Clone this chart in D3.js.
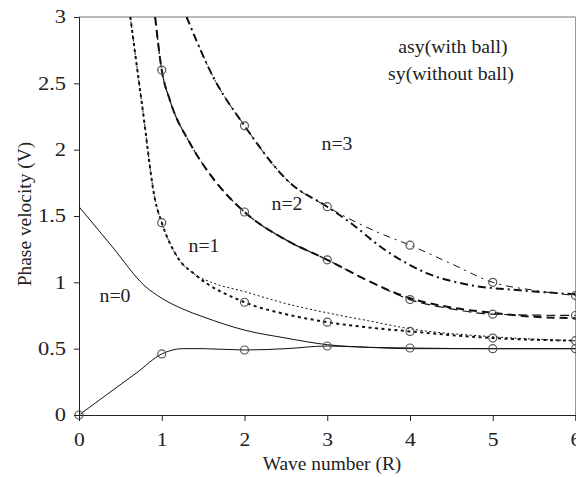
<!DOCTYPE html>
<html>
<head>
<meta charset="utf-8">
<script src="https://cdn.jsdelivr.net/npm/d3@7"></script>
<style>
  body { margin: 0; background: #fff; }
  svg text { font-family: "Liberation Serif", "Times New Roman", serif; fill: #222; }
</style>
</head>
<body>
<svg id="chart" width="576" height="477"></svg>
<script>
// n=0
var n0syX  = [0, 0.35, 0.7, 1, 1.25, 1.5, 2, 2.5, 3, 3.5, 4, 5, 6];
var n0syY  = [0, 0.16, 0.32, 0.46, 0.5, 0.5, 0.49, 0.5, 0.52, 0.51, 0.505, 0.5, 0.5];
var n0asyX = [0, 0.4, 0.8, 1, 1.25, 1.5, 2, 2.5, 3, 3.5, 4, 5, 6];
var n0asyY = [1.57, 1.27, 0.97, 0.88, 0.8, 0.74, 0.64, 0.58, 0.53, 0.51, 0.5, 0.5, 0.5];
// n=1
var n1syX  = [0.62, 0.77, 0.92, 1, 1.2, 1.4, 2, 2.5, 3, 3.5, 4, 5, 6];
var n1syY  = [3, 2.3, 1.62, 1.45, 1.18, 1.06, 0.85, 0.76, 0.7, 0.66, 0.63, 0.58, 0.56];
var n1asyX = [0.62, 0.77, 0.92, 1, 1.2, 1.4, 1.6, 2, 2.5, 3, 3.5, 4, 5, 6];
var n1asyY = [3, 2.3, 1.62, 1.45, 1.18, 1.06, 1.0, 0.93, 0.84, 0.77, 0.71, 0.65, 0.59, 0.56];
// n=2
var n2syX  = [0.92, 1, 1.1, 1.34, 1.6, 2, 2.5, 3, 3.5, 4, 4.5, 5, 6];
var n2syY  = [3, 2.6, 2.37, 2.05, 1.8, 1.53, 1.32, 1.17, 1.01, 0.87, 0.8, 0.76, 0.75];
var n2asyX = [0.92, 1, 1.1, 1.34, 1.6, 2, 2.5, 3, 3.5, 4, 4.5, 5, 5.5, 6];
var n2asyY = [3, 2.6, 2.37, 2.05, 1.8, 1.53, 1.32, 1.17, 1.01, 0.88, 0.81, 0.77, 0.74, 0.73];
// n=3
var n3syX  = [1.3, 1.62, 2, 2.55, 3, 3.6, 4, 4.5, 5, 5.5, 6];
var n3syY  = [3, 2.55, 2.18, 1.75, 1.57, 1.38, 1.28, 1.14, 1.0, 0.94, 0.9];
var n3asyX = [1.3, 1.62, 2, 2.55, 3, 3.3, 3.64, 4, 4.2, 4.72, 5.33, 6];
var n3asyY = [3, 2.55, 2.18, 1.75, 1.57, 1.44, 1.27, 1.13, 1.07, 0.98, 0.94, 0.91];

// circle markers
var mark0X = [0, 1, 2, 3, 4, 5, 6];
var mark0  = [0, 0.46, 0.49, 0.52, 0.505, 0.5, 0.5];
var mark1X = [1, 2, 3, 4, 5, 6];
var mark1  = [1.45, 0.85, 0.7, 0.63, 0.58, 0.56];
var mark2X = [1, 2, 3, 4, 5, 6];
var mark2  = [2.6, 1.53, 1.17, 0.87, 0.76, 0.75];
var mark3X = [2, 3, 4, 5, 6];
var mark3  = [2.18, 1.57, 1.28, 1.0, 0.9];

var xTicks = [0, 1, 2, 3, 4, 5, 6];
var yTicks = [0, 0.5, 1, 1.5, 2, 2.5, 3];

var svg = d3.select("#chart");
var x = d3.scaleLinear().domain([0, 6]).range([79, 575.5]);
var y = d3.scaleLinear().domain([0, 3]).range([415, 17]);

// frame (top and right)
svg.append("line").attr("x1", 79).attr("x2", 575.5).attr("y1", 17).attr("y2", 17)
   .style("stroke", "#777").style("stroke-width", 1);
svg.append("line").attr("x1", 575.5).attr("x2", 575.5).attr("y1", 17).attr("y2", 415)
   .style("stroke", "#999").style("stroke-width", 1);

var line = d3.line()
    .x(function(d) { return x(d[0]); })
    .y(function(d) { return y(d[1]); })
    .curve(d3.curveMonotoneX);

function zip(xs, ys) { return xs.map(function(v, i) { return [v, ys[i]]; }); }

var series = [
  {xs: n0asyX, ys: n0asyY, w: 1,   dash: null},
  {xs: n0syX,  ys: n0syY,  w: 1,   dash: null},
  {xs: n1asyX, ys: n1asyY, w: 1,   dash: "2,2.5"},
  {xs: n1syX,  ys: n1syY,  w: 2,   dash: "3,3.5"},
  {xs: n2asyX, ys: n2asyY, w: 2,   dash: "8,5"},
  {xs: n2syX,  ys: n2syY,  w: 1.2, dash: "9,5"},
  {xs: n3asyX, ys: n3asyY, w: 2,   dash: "8,4,2,4"},
  {xs: n3syX,  ys: n3syY,  w: 1,   dash: "7,5,2,5"}
];

svg.selectAll("path.curve").data(series).enter().append("path")
   .attr("class", "curve")
   .attr("d", function(d) { return line(zip(d.xs, d.ys)); })
   .style("fill", "none")
   .style("stroke", "#111")
   .style("stroke-width", function(d) { return d.w; })
   .style("stroke-dasharray", function(d) { return d.dash; });

var marks = zip(mark0X, mark0).concat(zip(mark1X, mark1), zip(mark2X, mark2), zip(mark3X, mark3));
svg.selectAll("circle.mk").data(marks).enter().append("circle")
   .attr("class", "mk")
   .attr("cx", function(d) { return x(d[0]); })
   .attr("cy", function(d) { return y(d[1]); })
   .attr("r", 4)
   .style("fill", "none")
   .style("stroke", "#555")
   .style("stroke-width", 1.2);

// axes
var xAxis = svg.append("g").attr("transform", "translate(0,415)")
   .call(d3.axisBottom(x).tickValues(xTicks).tickSize(6).tickPadding(12).tickFormat(function(d) { return String(d); }));
var yAxis = svg.append("g").attr("transform", "translate(79,0)")
   .call(d3.axisLeft(y).tickValues(yTicks).tickSize(5).tickPadding(9).tickFormat(function(d) { return String(d); }));
[xAxis, yAxis].forEach(function(a) {
  a.select(".domain").style("stroke", "#222");
  a.selectAll(".tick line").style("stroke", "#222");
  a.selectAll("text").style("font-family", "Liberation Serif").style("font-size", "18px").style("fill", "#222");
});
xAxis.selectAll(".tick text").attr("dy", "0.71em").attr("transform", "scale(1.2,1)");
yAxis.selectAll(".tick text").attr("x", -13 / 1.25).attr("transform", "scale(1.25,1)");

// labels
svg.append("text").attr("transform", "translate(332,470) scale(1.08,1)").attr("text-anchor", "middle")
   .style("font-size", "18px").text("Wave number (R)");
svg.append("text").attr("transform", "translate(31,214) rotate(-90) scale(1.08,1)").attr("text-anchor", "middle")
   .style("font-size", "18px").text("Phase velocity (V)");

var notes = [
  {t: "asy(with ball)", x: 453, y: 53},
  {t: "sy(without ball)", x: 451, y: 80},
  {t: "n=3", x: 337, y: 150},
  {t: "n=2", x: 287, y: 210},
  {t: "n=1", x: 204, y: 252},
  {t: "n=0", x: 115, y: 302}
];
svg.selectAll("text.note").data(notes).enter().append("text")
   .attr("class", "note")
   .attr("transform", function(d) { return "translate(" + d.x + "," + d.y + ") scale(1.1,1)"; })
   .attr("text-anchor", "middle")
   .style("font-size", "18px")
   .text(function(d) { return d.t; });
</script>
</body>
</html>
